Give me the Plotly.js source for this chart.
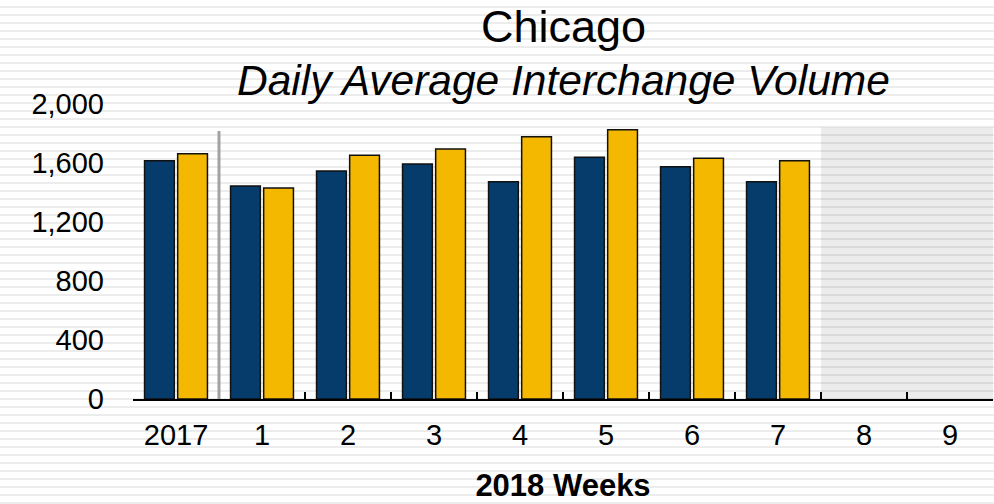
<!DOCTYPE html>
<html>
<head>
<meta charset="utf-8">
<script src="https://cdn.plot.ly/plotly-3.0.1.min.js"></script>
<style>
  html, body { margin: 0; padding: 0; }
  body {
    width: 994px; height: 504px; overflow: hidden;
    background: repeating-linear-gradient(to bottom, #ffffff 0px, #ffffff 6px, #ececec 6px, #ececec 8px);
  }
  #chart { width: 994px; height: 504px; }
</style>
</head>
<body>
<div id="chart"></div>
<script>
// weeks on the x axis (2017 = full-year reference)
weeks = ["2017","1","2","3","4","5","6","7","8","9"];
// blue series (left bar of each pair)
blueVals = [1616,1444,1546,1593,1473,1639,1575,1473,null,null];
// gold series (right bar of each pair)
goldVals = [1663,1431,1652,1695,1778,1826,1632,1616,null,null];
yTicks = [0,400,800,1200,1600,2000];
yTickText = ["0","400","800","1,200","1,600","2,000"];

fontFam = "Liberation Sans, Arial, sans-serif";

tracks = [
  { x: weeks, y: blueVals, type: "bar", name: "blue",
    marker: { color: "#053c6b", line: { color: "#111111", width: 1.5 } },
    hoverinfo: "x+y" },
  { x: weeks, y: goldVals, type: "bar", name: "gold",
    marker: { color: "#f4b800", line: { color: "#111111", width: 1.5 } },
    hoverinfo: "x+y" }
];

var layout = {
  width: 994, height: 504,
  paper_bgcolor: "rgba(0,0,0,0)",
  plot_bgcolor: "rgba(0,0,0,0)",
  showlegend: false,
  barmode: "group",
  bargap: 0.23,
  bargroupgap: 0.1,
  font: { family: fontFam, color: "#000" },
  margin: { l: 133, r: 1, t: 104, b: 105, pad: 0 },
  xaxis: {
    type: "category",
    showgrid: false, zeroline: false,
    showline: true, linecolor: "#000", linewidth: 1.5,
    ticks: "inside", tickson: "boundaries", ticklen: 7, tickwidth: 1.5, tickcolor: "#000",
    tickfont: { size: 29, family: fontFam },
    ticklabelstandoff: 10,
    title: { text: "<b>2018 Weeks</b>", font: { size: 31, family: fontFam }, standoff: 24 },
    fixedrange: true
  },
  yaxis: {
    range: [0, 2000],
    showgrid: false, zeroline: false, showline: false,
    ticks: "",
    tickvals: yTicks, ticktext: yTickText,
    tickfont: { size: 29, family: fontFam },
    ticklabelstandoff: 28,
    fixedrange: true
  },
  shapes: [
    // shaded future weeks 8-9
    { type: "rect", layer: "below", xref: "x", yref: "y",
      x0: 7.5, x1: 9.5, y0: 0, y1: 1841,
      fillcolor: "rgba(0,0,0,0.075)", line: { width: 0 } },
    // separator between 2017 and 2018 weeks
    { type: "line", layer: "above", xref: "x", yref: "y",
      x0: 0.5, x1: 0.5, y0: 0, y1: 1817,
      line: { color: "#a2a2a6", width: 3 } }
  ],
  annotations: [
    { text: "Chicago",
      xref: "paper", yref: "paper", x: 0.5, y: 1.262,
      xanchor: "center", yanchor: "middle", showarrow: false,
      font: { family: fontFam, size: 45, color: "#000" } },
    { text: "<i>Daily Average Interchange Volume</i>",
      xref: "paper", yref: "paper", x: 0.5, y: 1.081,
      xanchor: "center", yanchor: "middle", showarrow: false,
      font: { family: fontFam, size: 42.5, color: "#000" } },
    { text: "o",
      xref: "paper", yref: "paper", x: -0.1545, y: 1.27,
      xanchor: "right", yanchor: "middle", showarrow: false,
      font: { family: fontFam, size: 26, color: "#000" } }
  ]
};

Plotly.newPlot("chart", tracks, layout, { displayModeBar: false, staticPlot: true });
</script>
</body>
</html>
